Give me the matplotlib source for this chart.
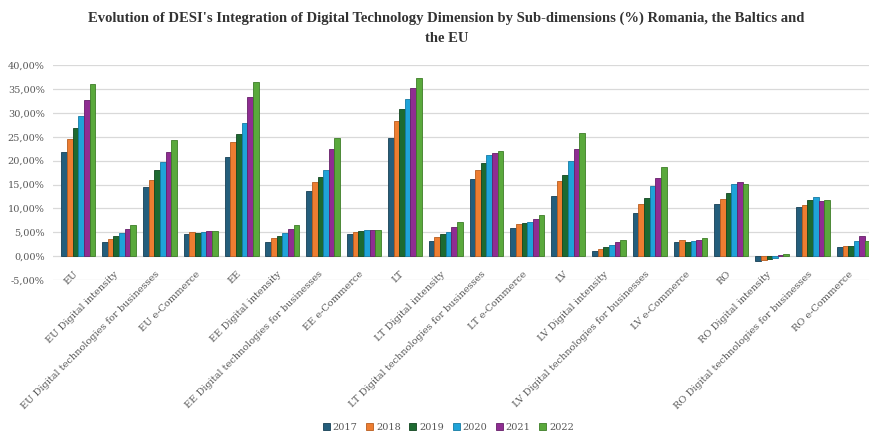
import numpy as np
import matplotlib.pyplot as plt
from matplotlib.ticker import FuncFormatter

# DESI integration of digital technology, values in %
categories = [
    "EU", "EU Digital intensity", "EU Digital technologies for businesses", "EU e-Commerce",
    "EE", "EE Digital intensity", "EE Digital technologies for businesses", "EE e-Commerce",
    "LT", "LT Digital intensity", "LT Digital technologies for businesses", "LT e-Commerce",
    "LV", "LV Digital intensity", "LV Digital technologies for businesses", "LV e-Commerce",
    "RO", "RO Digital intensity", "RO Digital technologies for businesses", "RO e-Commerce",
]
years = ["2017", "2018", "2019", "2020", "2021", "2022"]

v2017 = [21.9, 2.9, 14.5, 4.7, 20.7, 2.9, 13.7, 4.6, 24.8, 3.2, 16.2, 5.9, 12.7, 1.0, 9.0, 3.0, 10.9, -1.0, 10.2, 1.9]
v2018 = [24.5, 3.7, 16.0, 5.0, 23.8, 3.8, 15.5, 5.0, 28.3, 4.0, 18.0, 6.7, 15.7, 1.6, 11.0, 3.4, 12.0, -0.8, 10.8, 2.1]
v2019 = [26.9, 4.2, 18.0, 4.9, 25.6, 4.2, 16.5, 5.2, 30.7, 4.6, 19.6, 6.9, 16.9, 2.0, 12.2, 2.9, 13.2, -0.6, 11.7, 2.1]
v2020 = [29.3, 4.8, 19.7, 5.1, 27.9, 4.8, 18.1, 5.4, 32.9, 5.1, 21.1, 7.1, 19.9, 2.4, 14.6, 3.2, 15.1, -0.3, 12.3, 3.1]
v2021 = [32.6, 5.8, 21.9, 5.2, 33.2, 5.6, 22.4, 5.4, 35.1, 6.2, 21.6, 7.8, 22.5, 2.9, 16.3, 3.5, 15.6, 0.2, 11.6, 4.2]
v2022 = [36.0, 6.6, 24.3, 5.3, 36.4, 6.6, 24.7, 5.5, 37.2, 7.1, 22.1, 8.6, 25.8, 3.5, 18.6, 3.9, 15.2, 0.4, 11.7, 3.2]

series = [v2017, v2018, v2019, v2020, v2021, v2022]
colors = ["#245e7c", "#ed7d31", "#1d6a31", "#1fa3d8", "#8f2d92", "#5aa93c"]
edges = ["#163f54", "#b85d1f", "#114520", "#157aa3", "#661f69", "#3d7d27"]

text_gray = "#595959"
serif = "DejaVu Serif"

fig = plt.figure(figsize=(8.69, 4.33), dpi=100)
ax = fig.add_axes([0.061, 0.353, 0.945, 0.497])

x = np.arange(len(categories))
width = 0.83 / len(series)
for i, vals in enumerate(series):
    offset = (i - (len(series) - 1) / 2) * width
    ax.bar(x + offset, vals, width, color=colors[i], edgecolor=edges[i],
           linewidth=0.6, label=years[i], zorder=3)

ax.set_ylim(-5, 40)
ax.set_xlim(-0.62, 19.5)
ax.set_yticks(np.arange(-5, 41, 5))
ax.yaxis.set_major_formatter(FuncFormatter(lambda v, p: f"{v:.2f}%".replace(".", ",")))
ax.grid(axis="y", color="#d9d9d9", linewidth=0.9, zorder=0)
for s in ax.spines.values():
    s.set_visible(False)
ax.tick_params(axis="both", length=0)
ax.tick_params(axis="y", labelsize=7, labelcolor=text_gray, pad=6)
for lbl in ax.get_yticklabels():
    lbl.set_family(serif)

# category names, rotated, ending just under the zero line
ax.set_xticks([])
for i, name in enumerate(categories):
    ax.text(i - 0.05, -3.4, name, rotation=45, rotation_mode="anchor",
            ha="right", va="center", fontsize=7, color=text_gray, family=serif)

title_font = dict(ha="center", va="center", fontsize=10.5, fontweight="bold",
                  color="#333333", family="Liberation Serif")
fig.text(0.514, 0.958, "Evolution of DESI's Integration of Digital Technology Dimension by Sub-dimensions (%) Romania, the Baltics and",
         **title_font)
fig.text(0.514, 0.91, "the EU", **title_font)

leg = fig.legend(loc="center", bbox_to_anchor=(0.516, 0.012), ncol=6, frameon=False,
                 handlelength=0.7, handleheight=0.7, handletextpad=0.3, columnspacing=0.9,
                 prop={"family": serif, "size": 7})
for t in leg.get_texts():
    t.set_color(text_gray)

fig.savefig("out.png", dpi=100)
